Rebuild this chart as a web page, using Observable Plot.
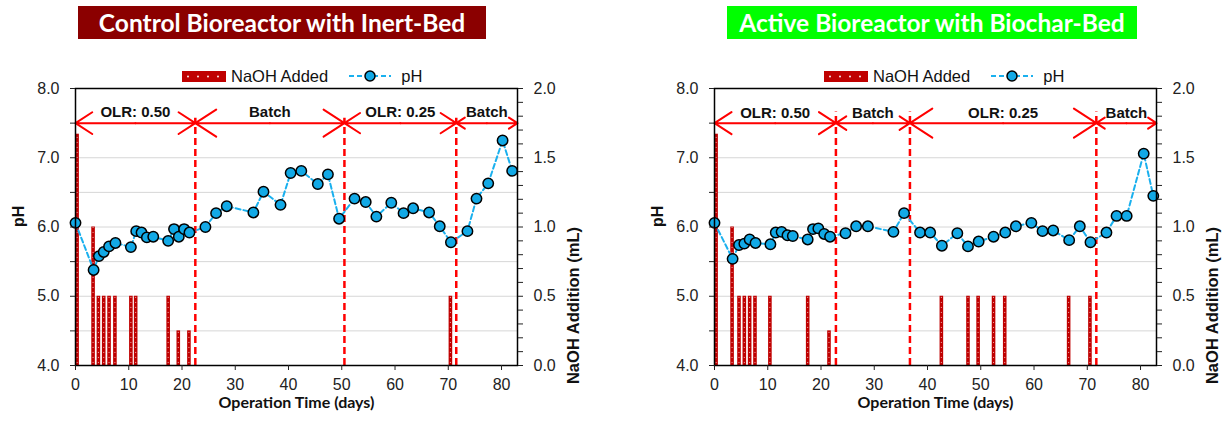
<!DOCTYPE html>
<html><head><meta charset="utf-8">
<script src="https://cdn.jsdelivr.net/npm/d3@7"></script>
<script src="https://cdn.jsdelivr.net/npm/@observablehq/plot@0.6"></script>
<style>
body{margin:0;background:#fff;}
#root{position:relative;width:1231px;height:423px;overflow:hidden;font-family:"Liberation Sans",Arial,sans-serif;}
.panel{position:absolute;top:0;width:592px;height:423px;}
.title{position:absolute;top:6px;height:33px;color:#fff;font-family:Lato,"Open Sans",sans-serif;font-weight:700;font-size:24.5px;line-height:33px;text-align:center;}
.legend{position:absolute;top:66px;height:20px;display:flex;align-items:center;font-size:16.5px;color:#111;white-space:nowrap;}
.plot{position:absolute;left:0;top:80px;}
</style></head><body><div id="root"></div>
<script>
// ---------- DATA ----------
// Control Bioreactor with Inert-Bed
const controlDays = [0,3.4,4.4,5.3,6.3,7.5,10.4,11.4,12.4,13.4,14.6,17.4,18.5,19.4,20.4,21.4,24.4,26.4,28.4,33.4,35.3,38.5,40.4,42.4,45.5,47.4,49.5,52.4,54.5,56.5,59.3,61.6,63.4,66.4,68.4,70.5,73.6,75.3,77.5,80.2,82.0];
const controlPH   = [6.06,5.38,5.58,5.64,5.72,5.77,5.71,5.94,5.92,5.85,5.86,5.80,5.97,5.86,5.97,5.92,6.00,6.20,6.30,6.21,6.51,6.32,6.78,6.81,6.62,6.76,6.12,6.41,6.36,6.15,6.35,6.20,6.27,6.21,6.01,5.78,5.94,6.41,6.63,7.25,6.81];
const controlNaohDays = [0.3,3.3,4.3,5.3,6.3,7.4,10.4,11.3,17.4,19.3,21.3,70.4];
const controlNaohML   = [1.67,1.0,0.5,0.5,0.5,0.5,0.5,0.5,0.5,0.25,0.25,0.5];
const controlPhaseStart = [0,22.5,50.5,71.5];
const controlPhaseEnd   = [22.5,50.5,71.5,83];
const controlPhaseLabel = ["OLR: 0.50","Batch","OLR: 0.25","Batch"];

// Active Bioreactor with Biochar-Bed
const activeDays = [0,3.4,4.6,5.6,6.6,7.7,10.5,11.5,12.6,13.7,14.7,17.5,18.5,19.5,20.6,21.7,24.6,26.6,28.8,33.6,35.6,38.6,40.5,42.7,45.6,47.6,49.6,52.4,54.6,56.6,59.5,61.6,63.6,66.6,68.6,70.6,73.6,75.5,77.4,80.6,82.4];
const activePH   = [6.06,5.54,5.74,5.76,5.82,5.77,5.75,5.92,5.93,5.88,5.87,5.82,5.97,5.98,5.90,5.86,5.91,6.01,6.01,5.93,6.20,5.92,5.92,5.73,5.91,5.72,5.79,5.86,5.92,6.01,6.06,5.94,5.95,5.81,6.01,5.78,5.92,6.16,6.16,7.06,6.45];
const activeNaohDays = [0.3,3.3,4.6,5.6,6.6,7.6,10.4,17.5,21.5,42.6,47.6,49.5,52.4,54.5,66.5,70.5];
const activeNaohML   = [1.67,1.0,0.5,0.5,0.5,0.5,0.5,0.5,0.25,0.5,0.5,0.5,0.5,0.5,0.5,0.5];
const activePhaseStart = [0,22.8,36.7,71.7];
const activePhaseEnd   = [22.8,36.7,71.7,83];
const activePhaseLabel = ["OLR: 0.50","Batch","OLR: 0.25","Batch"];

// Axes
const dayTicks  = [0,10,20,30,40,50,60,70,80];
const pHLabels  = [4,5,6,7,8];
const naohLabels = [0,0.5,1.0,1.5,2.0];

const phOf = ml => 4 + 2 * ml; // NaOH mL (0..2) onto pH (4..8) scale

function buildPanel(cfg) {
  const panel = document.createElement("div");
  panel.className = "panel";
  panel.style.left = cfg.left + "px";

  const title = document.createElement("div");
  title.className = "title";
  title.style.left = cfg.titleLeft + "px";
  title.style.width = cfg.titleWidth + "px";
  title.style.background = cfg.titleColor;
  title.textContent = cfg.title;
  panel.appendChild(title);

  const legend = document.createElement("div");
  legend.className = "legend";
  legend.style.left = cfg.legendLeft + "px";
  legend.innerHTML =
    `<svg width="44" height="11" style="display:block"><rect width="44" height="11" fill="#C00000"/>` +
    [6,16,26,36].map(x => `<circle cx="${x}" cy="5.5" r="0.9" fill="#fff"/>`).join("") + `</svg>` +
    `<span style="margin-left:5px">NaOH Added</span>` +
    `<svg width="42" height="14" style="display:block;margin-left:21px"><line x1="0" x2="42" y1="7" y2="7" stroke="#1AB0EE" stroke-width="2" stroke-dasharray="5,3"/><circle cx="21" cy="7" r="5" fill="#12A9E6" stroke="#000" stroke-width="1.5"/></svg>` +
    `<span style="margin-left:10px">pH</span>`;
  panel.appendChild(legend);

  const ph = cfg.days.map((d, i) => ({day: d, ph: cfg.ph[i]}));
  const naoh = cfg.naohDays.map((d, i) => ({day: d, ml: cfg.naohML[i]}));
  const phases = cfg.phaseStart.map((s, i) => ({start: s, end: cfg.phaseEnd[i], label: cfg.phaseLabel[i]}));
  const arrowSegs = phases.flatMap(p => {
    const m = (p.start + p.end) / 2;
    return [{x1: m, x2: p.start}, {x1: m, x2: p.end}];
  });
  const bounds = phases.slice(1).map(p => p.start);
  const gridVals = d3.range(4.5, 8, 0.5);
  const leftTicks = d3.range(4, 8.001, 0.5);
  const rightTicks = d3.range(0, 21).map(k => phOf(k / 10));
  const near = (a, b) => Math.abs(a - b) < 1e-6;

  const chart = Plot.plot({
    width: 592, height: 343,
    marginTop: 8, marginBottom: 58, marginLeft: 75, marginRight: 75,
    x: {domain: [0, 83]},
    y: {domain: [4, 8]},
    style: {fontFamily: '"Liberation Sans", Arial, sans-serif', fontSize: "16px", color: "#222", background: "transparent", overflow: "visible"},
    marks: [
      Plot.ruleY(gridVals, {stroke: "#d6d6d6", strokeWidth: 1}),
      Plot.ruleX(naoh, {x: "day", y1: 4, y2: d => phOf(d.ml), stroke: "#C00000", strokeWidth: 3.6}),
      Plot.ruleX(naoh, {x: "day", y1: 4.03, y2: d => phOf(d.ml), stroke: "#fff", strokeWidth: 1, strokeDasharray: "1,4", strokeOpacity: 0.7}),
      Plot.ruleX(bounds, {y1: 4, y2: cfg.dashTop, stroke: "#FF0000", strokeWidth: 2.5, strokeDasharray: "7,4"}),
      Plot.arrow(arrowSegs, {x1: "x1", x2: "x2", y1: 7.5, y2: 7.5, stroke: "#FF0000", strokeWidth: 2, headLength: 20, headAngle: 66}),
      Plot.text(phases, {x: d => (d.start + d.end) / 2, y: 7.5, text: "label", dy: cfg.labelDy, fontWeight: "bold", fontSize: 15, fill: "#111"}),
      Plot.line(ph, {x: "day", y: "ph", stroke: "#1AB0EE", strokeWidth: 2, strokeDasharray: "5,3"}),
      Plot.dot(ph, {x: "day", y: "ph", r: 5.2, fill: "#12A9E6", stroke: "#000", strokeWidth: 1.5}),
      Plot.frame({stroke: "#000", strokeWidth: 1.5}),
      Plot.axisY({anchor: "left", ticks: leftTicks, tickSize: 5, tickPadding: 11, label: null, fontSize: 16,
        tickFormat: d => pHLabels.some(v => near(v, d)) ? d.toFixed(1) : ""}),
      Plot.axisY({anchor: "right", ticks: rightTicks, tickSize: 5, tickPadding: 11, label: null, fontSize: 16,
        tickFormat: d => { const m = (d - 4) / 2; return naohLabels.some(v => near(v, m)) ? m.toFixed(1) : ""; }}),
      Plot.axisX({ticks: dayTicks, tickSize: 5, tickPadding: 8, label: null, fontSize: 16}),
      Plot.text(["pH"], {frameAnchor: "left", dx: -57, rotate: -90, fontWeight: "bold", fontSize: 16, fill: "#111"}),
      Plot.text(["NaOH Addition (mL)"], {frameAnchor: "right", dx: 56, rotate: -90, fontWeight: "bold", fontSize: 16.5, fill: "#111"}),
      Plot.text(["Operation Time (days)"], {frameAnchor: "bottom", dy: 42, fontFamily: "Lato, sans-serif", fontWeight: "bold", fontSize: 16, fill: "#111"})
    ]
  });
  chart.classList.add("plot");
  chart.style.position = "absolute";
  chart.style.left = "0px";
  chart.style.top = "80px";
  panel.appendChild(chart);
  return panel;
}

const root = document.getElementById("root");
root.appendChild(buildPanel({
  left: 0, title: "Control Bioreactor with Inert-Bed", titleColor: "#8B0000", titleLeft: 78, titleWidth: 408,
  legendLeft: 182, days: controlDays, ph: controlPH, naohDays: controlNaohDays, naohML: controlNaohML,
  phaseStart: controlPhaseStart, phaseEnd: controlPhaseEnd, phaseLabel: controlPhaseLabel, dashTop: 7.57, labelDy: -11
}));
root.appendChild(buildPanel({
  left: 639, title: "Active Bioreactor with Biochar-Bed", titleColor: "#00FF00", titleLeft: 88, titleWidth: 410,
  legendLeft: 185, days: activeDays, ph: activePH, naohDays: activeNaohDays, naohML: activeNaohML,
  phaseStart: activePhaseStart, phaseEnd: activePhaseEnd, phaseLabel: activePhaseLabel, dashTop: 7.66, labelDy: -10
}));
</script></body></html>
